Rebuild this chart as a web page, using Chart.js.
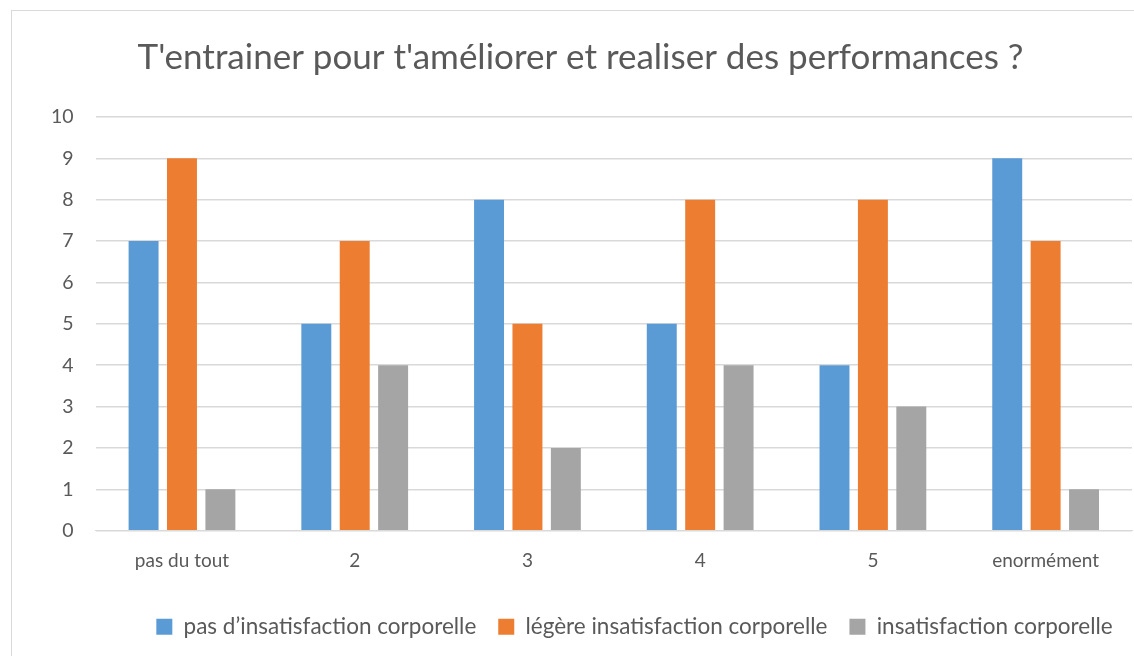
<!DOCTYPE html>
<html>
<head>
<meta charset="utf-8">
<script src="https://cdn.jsdelivr.net/npm/chart.js@4.4.1/dist/chart.umd.min.js"></script>
<style>
    body { margin: 0; background: #fff; }
    #wrap { position: absolute; left: 11px; top: 10px; width: 1134px; height: 660px; border: 1px solid #d9d9d9; box-sizing: border-box; }
    canvas { display: block; }
</style>
</head>
<body>
<div id="wrap"><canvas id="bar-chart" width="1132" height="658"></canvas></div>
<script>
const chartTitle = "T'entrainer pour t'améliorer et realiser des performances ?";
const categories = ["pas du tout", "2", "3", "4", "5", "enormément"];
const seriesNames = ["pas d\u2019insatisfaction corporelle", "légère insatisfaction corporelle", "insatisfaction corporelle"];
const noDissatisfaction = [7, 5, 8, 5, 4, 9];
const slightDissatisfaction = [9, 7, 5, 8, 8, 7];
const dissatisfaction = [1, 4, 2, 4, 3, 1];
const barColors = ["#5b9bd5", "#ed7d31", "#a5a5a5"];

const textColor = "#595959";
const fontName = "Lato";

window.onload = drawChart;

// the legend in the original sits a bit right of the centre
const legendShift = {
    id: 'legendShift',
    afterLayout: function (chart) {
        chart.legend.left += 54;
        chart.legend.right += 54;
    }
};

function drawChart() {
    var ctx = document.getElementById("bar-chart").getContext("2d");
    var values = [noDissatisfaction, slightDissatisfaction, dissatisfaction];
    var datasets = [];
    for (var i = 0; i < values.length; i++) {
        datasets.push({
            label: seriesNames[i],
            data: values[i],
            backgroundColor: barColors[i],
            categoryPercentage: 0.667,
            barPercentage: 0.78
        });
    }

    new Chart(ctx, {
        type: 'bar',
        data: {
            labels: categories,
            datasets: datasets
        },
        plugins: [legendShift],
        options: {
            responsive: false,
            animation: false,
            layout: {
                padding: { left: 17, right: 12, top: 22, bottom: 21 }
            },
            plugins: {
                title: {
                    display: true,
                    text: chartTitle,
                    color: textColor,
                    font: { family: fontName, size: 35, weight: 'normal' },
                    padding: { top: 4, bottom: 38 }
                },
                legend: {
                    display: true,
                    position: 'bottom',
                    labels: {
                        color: textColor,
                        font: { family: fontName, size: 22.5 },
                        boxWidth: 16,
                        boxHeight: 16,
                        padding: 22
                    }
                },
                tooltip: { enabled: false }
            },
            scales: {
                x: {
                    grid: { display: false },
                    border: { color: "#d9d9d9", width: 1 },
                    ticks: { color: textColor, font: { family: fontName, size: 19 }, padding: 11 },
                    afterFit: function (scale) { scale.height += 10; }
                },
                y: {
                    min: 0,
                    max: 10,
                    ticks: { stepSize: 1, color: textColor, font: { family: fontName, size: 19.5 }, padding: 22 },
                    grid: { color: "#d9d9d9", lineWidth: 1.5, drawTicks: false },
                    border: { display: false }
                }
            }
        }
    });
}
</script>
</body>
</html>
